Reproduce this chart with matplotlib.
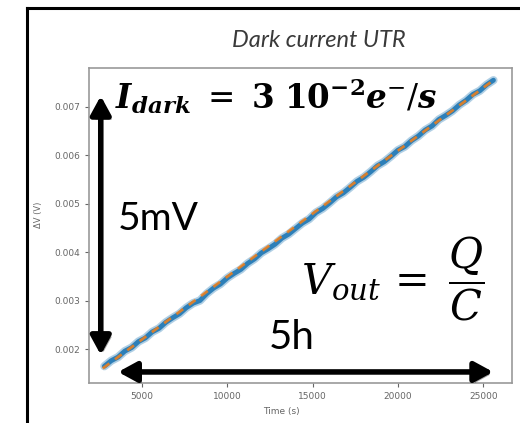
import matplotlib
matplotlib.use("Agg")
import matplotlib.pyplot as plt
import matplotlib.patheffects as pe
from matplotlib.lines import Line2D

plt.rcParams['mathtext.fontset'] = 'dejavuserif'

# integration ramp read out every 400 s (time in s, delta V in V)
time_s = [2800, 3200, 3600, 4000, 4400, 4800, 5200, 5600, 6000, 6400,
          6800, 7200, 7600, 8000, 8400, 8800, 9200, 9600, 10000, 10400,
          10800, 11200, 11600, 12000, 12400, 12800, 13200, 13600, 14000, 14400,
          14800, 15200, 15600, 16000, 16400, 16800, 17200, 17600, 18000, 18400,
          18800, 19200, 19600, 20000, 20400, 20800, 21200, 21600, 22000, 22400,
          22800, 23200, 23600, 24000, 24400, 24800, 25200, 25600]
delta_v = [0.001646, 0.001760, 0.001834, 0.001958, 0.002031, 0.002155, 0.002229, 0.002353, 0.002427, 0.002551,
           0.002644, 0.002728, 0.002852, 0.002946, 0.003000, 0.003144, 0.003257, 0.003341, 0.003465, 0.003559,
           0.003643, 0.003767, 0.003860, 0.003984, 0.004068, 0.004162, 0.004286, 0.004370, 0.004484, 0.004597,
           0.004681, 0.004815, 0.004899, 0.005013, 0.005137, 0.005220, 0.005334, 0.005458, 0.005542, 0.005656,
           0.005780, 0.005863, 0.005977, 0.006101, 0.006175, 0.006299, 0.006393, 0.006516, 0.006600, 0.006734,
           0.006818, 0.006912, 0.007036, 0.007130, 0.007253, 0.007327, 0.007451, 0.007545]

# linear fit endpoints
fit_t = [2700, 25700]
fit_v = [0.00160, 0.00757]

xticks = [5000, 10000, 15000, 20000, 25000]
yticks = [0.002, 0.003, 0.004, 0.005, 0.006, 0.007]

fig = plt.figure(figsize=(5.2, 4.23), dpi=100)
ax = fig.add_axes([0.171, 0.0946, 0.814, 0.745])

# fuzzy band under the measured ramp
ax.plot(time_s, delta_v, color='#1f77b4', lw=6, alpha=0.35, solid_capstyle='round')
ax.plot(time_s, delta_v, color='#1f77b4', lw=3.5, alpha=0.9, solid_capstyle='round')
ax.plot(fit_t, fit_v, color='#ff7f0e', lw=2, ls=(0, (3, 2.5)), alpha=0.8)

ax.set_xlim(1893, 26700)
ax.set_ylim(0.0013, 0.0078)
ax.set_xticks(xticks)
ax.set_xticklabels([str(t) for t in xticks])
ax.set_yticks(yticks)
ax.set_yticklabels(['%.3f' % v for v in yticks])
ax.tick_params(labelsize=6.5, colors='#666666', length=3, width=0.8)
for s in ax.spines.values():
    s.set_color('#999999')
    s.set_linewidth(1.2)

ax.set_xlabel('Time (s)', fontsize=6.5, color='#666666')
ax.xaxis.set_label_coords(0.454, -0.076)
ax.set_ylabel(r'ΔV (V)', fontsize=6, color='#666666')
ax.yaxis.set_label_coords(-0.109, 0.533)

# title of the slide
fig.text(0.613, 0.889, 'Dark current UTR', fontsize=17, style='italic',
         family='Lato', color='#3a3a3a', ha='center', va='baseline')

# arrows with a soft shadow
shadow = [pe.SimplePatchShadow(offset=(2, -2), alpha=0.35), pe.Normal()]
arrow = dict(arrowstyle='<|-|>,head_length=11,head_width=6', mutation_scale=1,
             lw=4, color='black', shrinkA=0, shrinkB=0, path_effects=shadow)
ax.annotate('', xy=(0.028, 0.911), xytext=(0.028, 0.089),
            xycoords='axes fraction', arrowprops=arrow)
ax.annotate('', xy=(0.069, 0.035), xytext=(0.955, 0.035),
            xycoords='axes fraction', arrowprops=arrow)

ax.text(0.069, 0.485, '5mV', transform=ax.transAxes, fontsize=28,
        family='Lato', ha='left', va='baseline')
ax.text(0.426, 0.108, '5h', transform=ax.transAxes, fontsize=29,
        family='Lato', ha='left', va='baseline')

ax.text(0.062, 0.87, r'$\mathbfit{I}_{\mathbfit{dark}}\ =\ \mathbf{3\ 10}^{\mathbf{-2}}\mathbfit{e}^{-}/\mathbfit{s}$',
        transform=ax.transAxes, fontsize=23.5, ha='left', va='baseline')
ax.text(0.502, 0.28, r'$V_{out}\,=\;\dfrac{Q}{C}$', transform=ax.transAxes,
        fontsize=30, ha='left', va='baseline')

# slide frame
fig.add_artist(Line2D([27 / 520, 1], [1 - 8 / 423, 1 - 8 / 423], transform=fig.transFigure,
                      color='black', lw=2.2))
fig.add_artist(Line2D([27 / 520, 27 / 520], [0, 1 - 8 / 423], transform=fig.transFigure,
                      color='black', lw=2.2))

fig.savefig('out.png', dpi=100)
